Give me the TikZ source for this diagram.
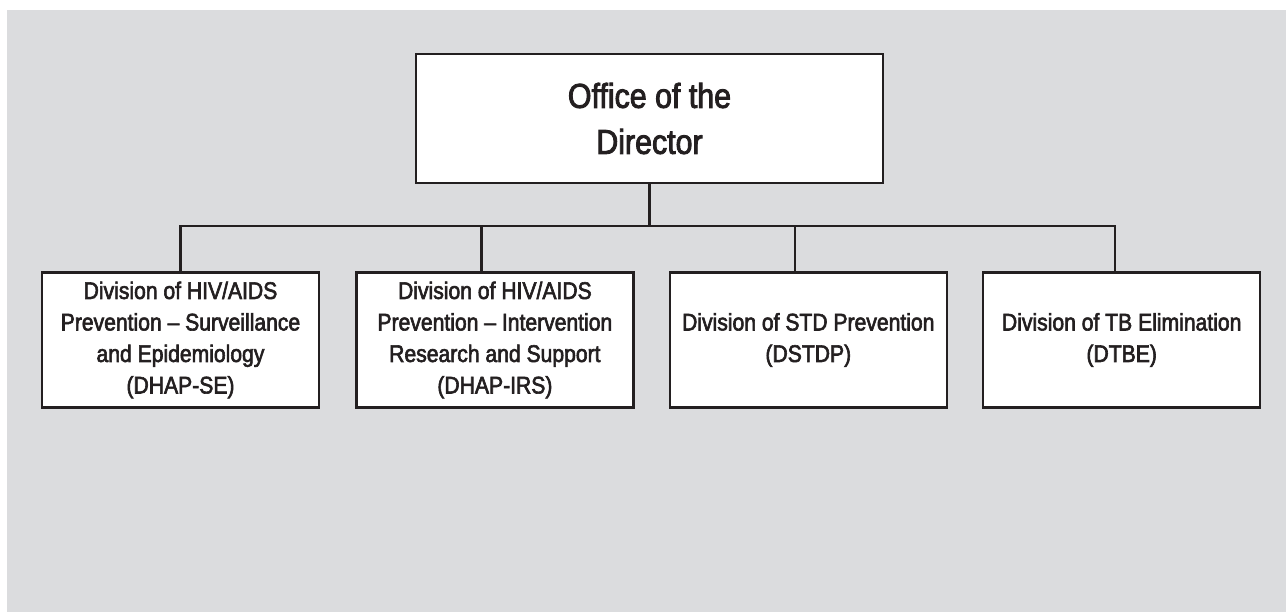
\documentclass[tikz,border=0pt]{standalone}
\usepackage{fontspec}
\setmainfont{Liberation Sans}[FakeStretch=0.88, FakeBold=2.5]
\usetikzlibrary{positioning}
\definecolor{bggray}{HTML}{DBDCDE}
\definecolor{inkblack}{HTML}{231F20}
\tikzset{
  orgbox/.style={draw=inkblack, fill=white, line width=2.4pt, align=center,
    text=inkblack, inner sep=0pt},
  topbox/.style={orgbox, minimum width=467pt, minimum height=129pt,
    font=\fontsize{34.5}{46}\selectfont},
  divbox/.style={orgbox, minimum width=277pt, minimum height=135pt,
    font=\fontsize{24}{31.5}\selectfont},
  orgline/.style={draw=inkblack, line width=2.2pt}
}
\begin{document}
\begin{tikzpicture}[x=1pt,y=-1pt]
\useasboundingbox (0,0) rectangle (1286,612);
% Background panel
\fill[bggray] (7,10) rectangle (1286,612);
% Top box
\node[topbox] (director) at (649.5,118.5) {Office of the\\Director};
% Divisions
\node[divbox] (hse) at (180.5,340) {Division of HIV/AIDS\\Prevention -- Surveillance\\and Epidemiology\\(DHAP-SE)};
\node[divbox, right=35pt of hse] (irs) {Division of HIV/AIDS\\Prevention -- Intervention\\Research and Support\\(DHAP-IRS)};
\node[divbox, right=34pt of irs] (dstdp) {Division of STD Prevention\\(DSTDP)};
\node[divbox, right=34pt of dstdp] (dtbe) {Division of TB Elimination\\(DTBE)};
% Connectors
\coordinate (bus) at (0,226);
\draw[orgline] (director.south) -- (director.south |- bus);
\draw[orgline] (hse.north) -- (hse.north |- bus) -- ([xshift=-6.5pt]dtbe.north |- bus) -- ([xshift=-6.5pt]dtbe.north);
\draw[orgline] ([xshift=-13.5pt]irs.north) -- ([xshift=-13.5pt]irs.north |- bus);
\draw[orgline] ([xshift=-13pt]dstdp.north) -- ([xshift=-13pt]dstdp.north |- bus);
\end{tikzpicture}
\end{document}
